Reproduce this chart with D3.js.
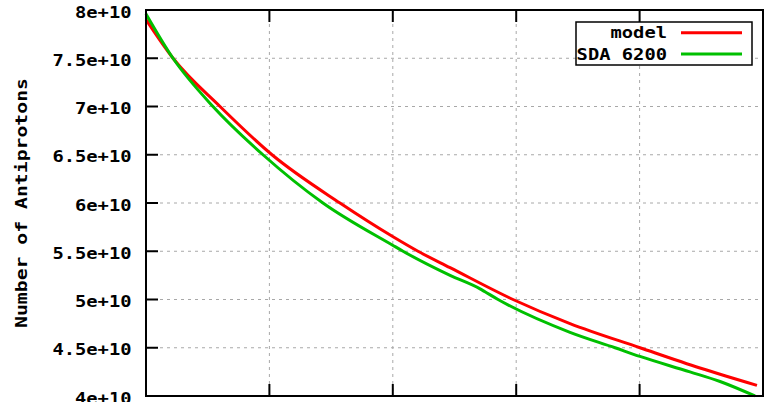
<!DOCTYPE html>
<html>
<head>
<meta charset="utf-8">
<script src="https://cdn.jsdelivr.net/npm/d3@7/dist/d3.min.js"></script>
<style>
  body { margin: 0; background: #fff; }
  svg { display: block; }
  .lbl { font-family: "DejaVu Sans Mono", monospace; font-weight: bold; font-size: 15px; fill: #000; }
</style>
</head>
<body>
<div id="chart"></div>
<script>
// x is in arbitrary units (no x labels shown in the picture), y is antiproton count
const modelT   = [0, 0.219, 0.600, 1.021, 1.572, 2.002, 2.204, 2.464, 2.974, 3.436, 4.003, 4.489, 4.951];
const modelVal = [7.90e10, 7.50e10, 7.00e10, 6.50e10, 6.00e10, 5.65e10, 5.50e10, 5.33e10, 5.00e10, 4.75e10, 4.50e10, 4.29e10, 4.11e10];

const sdaT   = [0, 0.219, 0.543, 0.948, 1.434, 2.002, 2.083, 2.464, 2.707, 2.747, 2.853, 3.436, 3.801, 4.003, 4.408, 4.652, 4.935];
const sdaVal = [7.96e10, 7.50e10, 7.00e10, 6.50e10, 6.00e10, 5.56e10, 5.50e10, 5.25e10, 5.11e10, 5.08e10, 5.00e10, 4.66e10, 4.50e10, 4.41e10, 4.25e10, 4.15e10, 4.00e10];

const yTicks = [4e10, 4.5e10, 5e10, 5.5e10, 6e10, 6.5e10, 7e10, 7.5e10, 8e10];
const yTickLabels = ["4e+10", "4.5e+10", "5e+10", "5.5e+10", "6e+10", "6.5e+10", "7e+10", "7.5e+10", "8e+10"];
const xTicks = [1, 2, 3, 4];
const seriesNames = ["model", "SDA 6200"];
const seriesColors = ["#ff0000", "#00c000"];
const yTitle = "Number of Antiprotons";

const W = 767, H = 402;
const margin = {top: 10, right: 4, bottom: 6, left: 146};
const charW = 11.3;

const svg = d3.select("#chart").append("svg")
  .attr("width", W).attr("height", H);

const x = d3.scaleLinear().domain([0, 5]).range([margin.left, W - margin.right]);
const y = d3.scaleLinear().domain([4e10, 8e10]).range([H - margin.bottom, margin.top]);

// grid
svg.append("g").selectAll("line").data(xTicks).enter().append("line")
  .attr("x1", d => x(d)).attr("x2", d => x(d))
  .attr("y1", y(8e10)).attr("y2", y(4e10))
  .attr("stroke", "#a8a8a8").attr("stroke-dasharray", "3,4");
svg.append("g").selectAll("line").data(yTicks.slice(1, -1)).enter().append("line")
  .attr("x1", x(0)).attr("x2", x(5))
  .attr("y1", d => y(d)).attr("y2", d => y(d))
  .attr("stroke", "#a8a8a8").attr("stroke-dasharray", "3,4");

// ticks
const ticks = svg.append("g").attr("stroke", "#000").attr("stroke-width", 2);
ticks.selectAll(".yt").data(yTicks).enter().append("line")
  .attr("x1", x(0)).attr("x2", x(0) + 12)
  .attr("y1", d => y(d)).attr("y2", d => y(d));
ticks.selectAll(".xb").data(xTicks).enter().append("line")
  .attr("x1", d => x(d)).attr("x2", d => x(d))
  .attr("y1", y(4e10)).attr("y2", y(4e10) - 12);
ticks.selectAll(".xt").data(xTicks).enter().append("line")
  .attr("x1", d => x(d)).attr("x2", d => x(d))
  .attr("y1", y(8e10)).attr("y2", y(8e10) + 12);

// y tick labels
svg.append("g").selectAll("text").data(yTicks).enter().append("text")
  .attr("class", "lbl")
  .attr("text-anchor", "end")
  .attr("x", 131.5)
  .attr("y", d => y(d) + 7.5)
  .attr("textLength", (d, i) => yTickLabels[i].length * charW)
  .attr("lengthAdjust", "spacingAndGlyphs")
  .text((d, i) => yTickLabels[i]);

// y title
svg.append("text")
  .attr("class", "lbl")
  .attr("text-anchor", "middle")
  .attr("transform", "translate(26.5," + ((y(8e10) + y(4e10)) / 2) + ") rotate(-90)")
  .attr("textLength", yTitle.length * 11.9)
  .attr("lengthAdjust", "spacingAndGlyphs")
  .text(yTitle);

// lines
const line = d3.line().x(d => x(d[0])).y(d => y(d[1])).curve(d3.curveMonotoneX);
const series = [
  d3.zip(modelT, modelVal),
  d3.zip(sdaT, sdaVal)
];
const plot = svg.append("g");
series.forEach((s, i) => {
  plot.append("path")
    .datum(s)
    .attr("d", line)
    .attr("fill", "none")
    .attr("stroke", seriesColors[i])
    .attr("stroke-width", 3)
    .attr("stroke-linejoin", "round");
});

// border
svg.append("rect")
  .attr("x", x(0)).attr("y", y(8e10))
  .attr("width", x(5) - x(0)).attr("height", y(4e10) - y(8e10))
  .attr("fill", "none").attr("stroke", "#000").attr("stroke-width", 2);

// legend
const leg = svg.append("g");
leg.append("rect")
  .attr("x", 576).attr("y", 22).attr("width", 176).attr("height", 43)
  .attr("fill", "#fff").attr("stroke", "#000").attr("stroke-width", 1.5);
seriesNames.forEach((name, i) => {
  const ly = 32.7 + i * 21.3;
  leg.append("text")
    .attr("class", "lbl")
    .attr("text-anchor", "end")
    .attr("x", 667)
    .attr("y", ly + 5.5)
    .attr("textLength", name.length * charW)
    .attr("lengthAdjust", "spacingAndGlyphs")
    .text(name);
  leg.append("line")
    .attr("x1", 681).attr("x2", 742)
    .attr("y1", ly).attr("y2", ly)
    .attr("stroke", seriesColors[i]).attr("stroke-width", 3);
});
</script>
</body>
</html>
